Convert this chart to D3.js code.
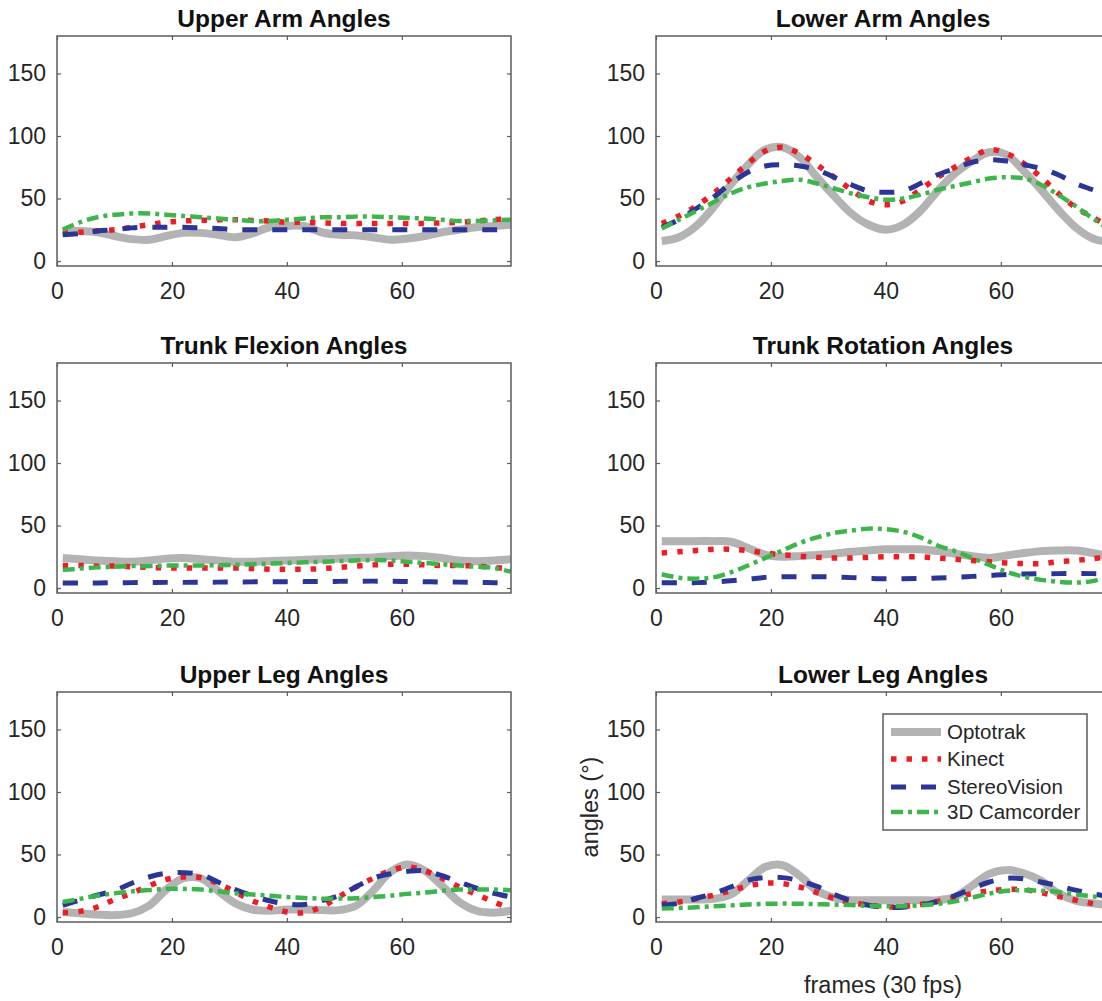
<!DOCTYPE html>
<html>
<head>
<meta charset="utf-8">
<script src="https://cdn.jsdelivr.net/npm/d3@7"></script>
<style>
  html, body { margin: 0; padding: 0; background: #fff; }
  svg { display: block; font-family: "Liberation Sans", Arial, sans-serif; }
</style>
</head>
<body>
<svg id="chart" width="1102" height="1001"></svg>
<script>
// ---------- DATA ----------
const frames = [1,4,7,10,13,16,19,22,25,28,31,34,37,40,43,46,49,52,55,58,61,64,67,70,73,76,79];
const seriesNames = ["Optotrak", "Kinect", "StereoVision", "3D Camcorder"];
const panelTitles = ["Upper Arm Angles", "Lower Arm Angles", "Trunk Flexion Angles",
                     "Trunk Rotation Angles", "Upper Leg Angles", "Lower Leg Angles"];
const xTicks = [0, 20, 40, 60, 80];
const yTicks = [0, 50, 100, 150];

// Upper Arm
const upperArmOpto   = [24,24,23,20,17.5,17,20,22.5,22.5,21,19,22,27,28,28,23,21,20.5,19,17,18,20,23,25,27,28,29];
const upperArmKinect = [22,23,24,25,27,29,31,32,32.5,33,33,32.5,32,31,31,30.5,30,30,30,30,30,30,30.5,31,32,33,34];
const upperArmStereo = [21,22,24,25,26.5,27,27,27,26.5,26,25,25,25,25,25,25,25,25,25,25,25,25,25,25,25,25,25];
const upperArmCam    = [25,31,35,37,38,38,37,36,35,34,33,32,32,33,34,35,35,35.5,35.5,35,34.5,34,33,32,32,32.5,33];
// Lower Arm
const lowerArmOpto   = [16,19,28,43,61,77,89,91,83,67,52,38,29,25,29,40,56,70,80,87,85,72,57,41,27,18,15];
const lowerArmKinect = [30,36,44,54,66,78,88,91,86,77,67,57,48,45,48,57,67,75,83,89,86,78,67,54,43,35,27];
const lowerArmStereo = [27,33,42,51,62,71,76,77,76,73,67,61,56,55,56,62,69,74,79,81,80,77,74,69,62,57,52];
const lowerArmCam    = [26,33,40,47,54,59,62,64,65,62,58,54,51,49,50,53,57,60,63,66,67,66,61,53,44,34,25];
// Trunk Flexion
const trunkFlexOpto   = [24,23,22,21.5,21,22,23.5,24,23,22,21,21,21.5,22,22.5,23,23.5,24,24.5,25.5,26,25.5,24,22,21.5,22,23];
const trunkFlexKinect = [18,18,17.5,17.5,17,16.5,16,16,16,16,16,15.5,15,15,15,15.5,16.5,17.5,18.5,19,19,18.5,18,18,17.5,16.5,15];
const trunkFlexStereo = [4,4,4,4.2,4.3,4.4,4.5,4.5,4.6,4.7,4.8,4.9,5,5,5.1,5.2,5.3,5.4,5.5,5.4,5.2,5,4.8,4.7,4.5,4.2,4];
const trunkFlexCam    = [14.5,15.5,16.5,17,17.5,17.5,18,18,18,18.2,18.5,19,19.5,20,20.5,21,21.5,22,22.4,22,21,20,19,18,17,16,13];
// Trunk Rotation
const trunkRotOpto   = [37.5,37.5,37.5,37.5,37,32,26.5,25,25.5,26.5,27.5,29,30,31,31,31,29.5,27.5,25.5,24,26,28,29.5,30,30,28,25];
const trunkRotKinect = [28,29,30,31,31,30,28,26.5,25.5,24.5,24,24,24.5,25,25,25,24,23,22,21,20,19.5,19.5,21,22,23.5,25];
const trunkRotStereo = [4.3,4.3,4.3,4.8,5.8,7,8.5,9,9,9,8.8,8.3,7.8,7.4,7.4,7.6,8,8.6,9.3,10,10.8,11.2,11.4,11.5,11.7,11.5,11];
const trunkRotCam    = [11,8.2,7.5,8.5,12.5,18,24,30,36,40.5,44,46,47.5,47,45,40.5,34,29.5,24,18.5,13,9,6.5,5,4.3,5.5,9.5];
// Upper Leg
const upperLegOpto   = [4,3,2,1.5,3,9,22,31,31,21,11,6,5,6,6,5.5,5.5,9,21,36,42,37,25,12,5,3.5,5];
const upperLegKinect = [3.5,4.5,8,14,19,25,30,32,31.5,27,20,13,8,4,3.5,8,16,24,31,37,40,37,31,24,18,12,6.7];
const upperLegStereo = [9.4,13.5,17.5,21,27,32,35,35.5,34,28,22,17,13,10.5,10,13,17,24,31,34.5,36.5,37,33,28,23,19,16];
const upperLegCam    = [12,14.5,17,19,20.5,21.5,22.5,22.5,22,20.5,19,18,17,16,15.2,14.7,14.7,15,16,17,18.5,19.5,21,22,22,22,21.4];
// Lower Leg
const lowerLegOpto   = [14,14,14,14.5,18,29,40,41.5,33,21,15.5,13.5,13.4,13.4,13.4,13.4,13.4,16,25,34.5,37.5,35,29,19,13,11,9.4];
const lowerLegKinect = [10.7,12,14.5,17.4,21,25,27,26.7,24,19.5,15,11.5,9.5,8,8.5,10,12.5,15.5,18.7,21,22,22,19.5,16.5,13.5,10.7,7.5];
const lowerLegStereo = [9.4,11,15,18.7,24,29.5,31.5,31.5,29,24.5,18,13,9.4,7.8,7.8,9.5,12.5,17,22.7,28,31,30.5,28,25,21.5,18.7,16];
const lowerLegCam    = [6.7,7.2,7.8,8.6,9.3,10,10.5,10.7,10.6,10.3,10,9.5,8.8,8.6,8.6,9.3,10.5,12.5,15.5,18.7,21,21.5,21,20,18,16.5,14.7];

const panelData = [
  [upperArmOpto, upperArmKinect, upperArmStereo, upperArmCam],
  [lowerArmOpto, lowerArmKinect, lowerArmStereo, lowerArmCam],
  [trunkFlexOpto, trunkFlexKinect, trunkFlexStereo, trunkFlexCam],
  [trunkRotOpto, trunkRotKinect, trunkRotStereo, trunkRotCam],
  [upperLegOpto, upperLegKinect, upperLegStereo, upperLegCam],
  [lowerLegOpto, lowerLegKinect, lowerLegStereo, lowerLegCam]
];

// ---------- STYLE ----------
const styles = [
  {color: "#b3b3b3", width: 8,   dash: null},
  {color: "#ee1c25", width: 5.5, dash: "5.5,10"},
  {color: "#2b3595", width: 5,   dash: "15,15"},
  {color: "#3cb54a", width: 4.5, dash: "12,5,4,5"}
];
const axisColor = "#5c5c5c";
const textColor = "#262626";

const svg = d3.select("#chart");
svg.append("rect").attr("width", 1102).attr("height", 1001).attr("fill", "#fff");

const plotW = 454, plotH = 230;
const colX = [57, 656];
const rowY = [36, 363, 692];

const x = d3.scaleLinear().domain([0, 79]).range([0, plotW]);
const y = d3.scaleLinear().domain([-4, 180]).range([plotH, 0]);

const line = d3.line()
  .x(d => x(d[0]))
  .y(d => y(d[1]))
  .curve(d3.curveCatmullRom.alpha(0.5));

panelData.forEach((series, i) => {
  const col = i % 2, row = Math.floor(i / 2);
  const g = svg.append("g").attr("transform", `translate(${colX[col]},${rowY[row]})`);

  const clipId = "clip" + i;
  g.append("clipPath").attr("id", clipId)
    .append("rect").attr("x", 0).attr("y", 0).attr("width", plotW).attr("height", plotH);

  // lines
  const lg = g.append("g").attr("clip-path", `url(#${clipId})`);
  series.forEach((vals, s) => {
    const pts = frames.map((f, k) => [f, vals[k]]);
    lg.append("path")
      .attr("d", line(pts))
      .attr("fill", "none")
      .attr("stroke", styles[s].color)
      .attr("stroke-width", styles[s].width)
      .attr("stroke-dasharray", styles[s].dash)
      .attr("stroke-linecap", "butt")
      .attr("stroke-linejoin", "round");
  });

  // axes
  const xb = g.append("g").attr("transform", `translate(0,${plotH})`)
    .call(d3.axisBottom(x).tickValues(xTicks.filter(t => t <= 79)).tickSizeInner(-4).tickSizeOuter(0).tickPadding(17));
  const xt = g.append("g")
    .call(d3.axisTop(x).tickValues(xTicks.filter(t => t <= 79)).tickSizeInner(-4).tickSizeOuter(0).tickFormat(""));
  const yl = g.append("g")
    .call(d3.axisLeft(y).tickValues(yTicks).tickSizeInner(-4).tickSizeOuter(0).tickPadding(11));
  const yr = g.append("g").attr("transform", `translate(${plotW},0)`)
    .call(d3.axisRight(y).tickValues(yTicks).tickSizeInner(-4).tickSizeOuter(0).tickFormat(""));

  [xb, xt, yl, yr].forEach(a => {
    a.select(".domain").remove();
    a.selectAll(".tick line").attr("stroke", axisColor).attr("stroke-width", 1.2);
    a.selectAll(".tick text").attr("fill", textColor).attr("font-size", 23)
      .attr("font-family", "'Liberation Sans', Arial, sans-serif");
  });

  // box
  g.append("rect").attr("x", 0).attr("y", 0).attr("width", plotW).attr("height", plotH)
    .attr("fill", "none").attr("stroke", axisColor).attr("stroke-width", 1.5);

  // title
  g.append("text")
    .attr("x", plotW / 2).attr("y", -9)
    .attr("text-anchor", "middle")
    .attr("font-size", 24.5).attr("font-weight", "bold")
    .attr("fill", "#111")
    .text(panelTitles[i]);

  // labels + legend on last panel
  if (i === 5) {
    g.append("text")
      .attr("transform", `translate(-66,${plotH / 2}) rotate(-90)`)
      .attr("text-anchor", "middle")
      .attr("dy", "0.35em")
      .attr("font-size", 23.5).attr("fill", textColor)
      .text("angles (°)");
    g.append("text")
      .attr("x", x(39.5)).attr("y", plotH + 71)
      .attr("text-anchor", "middle")
      .attr("font-size", 23.5).attr("fill", textColor)
      .text("frames (30 fps)");

    const leg = g.append("g").attr("transform", "translate(227,22)");
    leg.append("rect").attr("x", 0).attr("y", 0).attr("width", 204).attr("height", 116)
      .attr("fill", "#fff").attr("stroke", axisColor).attr("stroke-width", 1.5);
    const rowsY = [18, 45, 73, 98];
    seriesNames.forEach((name, s) => {
      leg.append("line")
        .attr("x1", 8).attr("x2", 58).attr("y1", rowsY[s]).attr("y2", rowsY[s])
        .attr("stroke", styles[s].color)
        .attr("stroke-width", styles[s].width)
        .attr("stroke-dasharray", styles[s].dash);
      leg.append("text")
        .attr("x", 64).attr("y", rowsY[s]).attr("dy", "0.35em")
        .attr("font-size", 20.5).attr("fill", textColor)
        .text(name);
    });
  }
});
</script>
</body>
</html>
